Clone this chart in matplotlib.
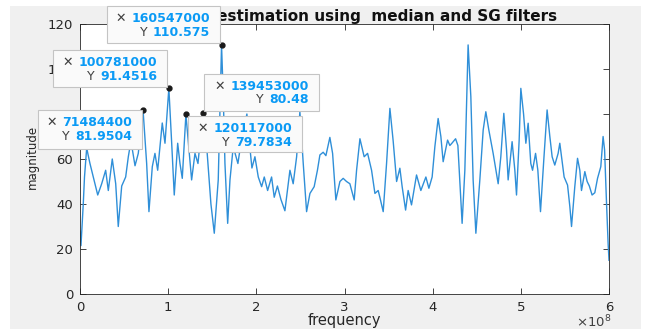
#!/usr/bin/env python3
"""Magnitude spectrum after median + SG filtering, with five data tips."""

import matplotlib
matplotlib.use("Agg")
import matplotlib.pyplot as plt
from matplotlib.patches import Rectangle, FancyBboxPatch

W, H = 646, 329

# frequency in units of 1e8, magnitude
FREQ = [
    0.000, 0.011, 0.037, 0.051, 0.076, 0.091, 0.113, 0.151, 0.201, 0.246,
    0.291, 0.321, 0.366, 0.405, 0.434, 0.473, 0.518, 0.548, 0.578, 0.624,
    0.661, 0.7148, 0.756, 0.782, 0.820, 0.850, 0.881, 0.933, 0.964, 1.0078,
    1.040, 1.069, 1.108, 1.134, 1.160, 1.2012, 1.236, 1.266, 1.304, 1.338,
    1.3945, 1.437, 1.485, 1.523, 1.568, 1.6055, 1.625, 1.644, 1.675, 1.701,
    1.738, 1.791, 1.837, 1.893, 1.927, 1.950, 1.984, 2.022, 2.060, 2.090,
    2.128, 2.173, 2.203, 2.239, 2.279, 2.324, 2.381, 2.418, 2.457, 2.494,
    2.532, 2.570, 2.608, 2.656, 2.693, 2.721, 2.758, 2.789, 2.834, 2.865,
    2.902, 2.948, 2.985, 3.023, 3.061, 3.110, 3.137, 3.175, 3.223, 3.262,
    3.307, 3.345, 3.382, 3.401, 3.439, 3.477, 3.515, 3.552, 3.591, 3.628,
    3.654, 3.693, 3.722, 3.760, 3.817, 3.866, 3.923, 3.957, 3.994, 4.025,
    4.062, 4.093, 4.119, 4.169, 4.195, 4.218, 4.260, 4.286, 4.334, 4.365,
    4.402, 4.433, 4.459, 4.490, 4.535, 4.573, 4.603, 4.637, 4.686, 4.743,
    4.773, 4.807, 4.838, 4.856, 4.901, 4.932, 4.951, 4.981, 5.000, 5.031,
    5.057, 5.083, 5.113, 5.133, 5.167, 5.193, 5.223, 5.261, 5.298, 5.329,
    5.355, 5.385, 5.423, 5.442, 5.465, 5.491, 5.530, 5.556, 5.575, 5.612,
    5.643, 5.669, 5.688, 5.726, 5.752, 5.777, 5.808, 5.839, 5.870, 5.907,
    5.933, 5.950, 5.972, 5.990, 6.000,
]
MAG = [
    28.0, 21.5, 40.0, 52.0, 65.0, 62.0, 58.0, 52.0, 44.0, 49.0,
    55.0, 46.0, 60.0, 49.0, 30.0, 48.0, 52.0, 61.0, 68.0, 57.0,
    62.5, 81.95, 58.0, 36.6, 56.6, 62.5, 55.0, 76.0, 67.0, 91.45,
    67.0, 44.0, 67.0, 58.0, 51.4, 79.78, 64.0, 50.7, 62.5, 58.0,
    80.48, 65.5, 40.0, 27.0, 50.7, 110.58, 87.7, 58.0, 31.4, 50.7,
    65.5, 58.0, 70.0, 80.0, 65.0, 56.0, 61.0, 52.0, 47.7, 52.0,
    46.0, 52.0, 43.0, 48.0, 42.0, 37.0, 55.0, 49.0, 61.0, 81.0,
    58.0, 36.6, 44.7, 47.7, 55.0, 61.8, 63.0, 61.5, 69.6, 62.5,
    41.8, 50.0, 51.4, 50.0, 49.0, 41.8, 55.0, 69.0, 61.0, 62.5,
    55.0, 44.7, 46.0, 43.0, 36.6, 58.0, 82.5, 68.0, 50.0, 55.9,
    47.7, 37.3, 46.0, 39.6, 52.9, 46.0, 52.0, 47.0, 52.0, 65.5,
    78.0, 70.0, 58.8, 68.4, 66.0, 67.0, 69.0, 66.0, 31.4, 55.0,
    110.7, 87.7, 50.7, 27.0, 50.7, 72.9, 81.0, 72.9, 62.5, 49.0,
    61.0, 80.3, 64.0, 50.7, 67.7, 55.0, 44.0, 68.4, 91.4, 80.0,
    67.0, 75.9, 58.0, 55.0, 62.5, 55.0, 36.6, 60.0, 81.8, 70.0,
    61.0, 57.3, 62.5, 67.0, 60.0, 52.0, 48.4, 38.8, 30.0, 47.7,
    60.3, 55.0, 46.0, 54.4, 50.0, 48.0, 44.0, 45.0, 51.4, 56.6,
    70.0, 64.0, 40.3, 22.5, 15.0,
]

# data tips
TIP_X = ["160547000", "100781000", "139453000", "71484400", "120117000"]
TIP_Y = ["110.575", "91.4516", "80.48", "81.9504", "79.7834"]
TIP_FREQ = [1.60547, 1.00781, 1.39453, 0.714844, 1.20117]
TIP_MAG = [110.575, 91.4516, 80.48, 81.9504, 79.7834]

# tip boxes in image pixels: left, top, right, bottom
TIP_BOXES = [
    (107, 6, 220, 43),
    (53, 50, 167, 87),
    (204, 74, 319, 111),
    (38, 110, 142, 149),
    (188, 116, 302, 152),
]

X_TICKS = [0, 1, 2, 3, 4, 5, 6]
Y_TICKS = [0, 20, 40, 60, 80, 100, 120]

DARK = "#262626"
LINE = "#2f8fd8"
TIP_BLUE = "#0a9af5"


def fx(x):
    return x / W


def fy(y):
    return 1 - y / H


def main():
    plt.rcParams["font.family"] = ["DejaVu Sans"]
    fig = plt.figure(figsize=(W / 100, H / 100), dpi=100, facecolor="white")

    # MATLAB-style gray figure panel
    fig.add_artist(Rectangle((fx(10), 0), fx(631), 1 - fy(323),
                             transform=fig.transFigure, facecolor="#f0f0f0",
                             edgecolor="none", zorder=-10))

    ax = fig.add_axes([fx(80), fy(294), fx(529), fy(24) - fy(294)])
    ax.plot(FREQ, MAG, color=LINE, lw=1.0)
    ax.plot(TIP_FREQ, TIP_MAG, "o", color="#1a1a1a", ms=3.5, zorder=5)

    ax.set_xlim(0, 6)
    ax.set_ylim(0, 120)
    ax.set_xticks(X_TICKS)
    ax.set_yticks(Y_TICKS)
    ax.tick_params(direction="in", top=True, right=True, length=4,
                   width=0.6, colors=DARK, labelsize=9.5, pad=5)
    for s in ax.spines.values():
        s.set_color(DARK)
        s.set_linewidth(0.6)

    fig.text(fx(344), fy(321), "frequency", ha="center", va="center",
             fontsize=10.5, color=DARK)
    fig.text(fx(32), fy(157), "magnitude", ha="center", va="center",
             rotation=90, fontsize=8.5, color=DARK)
    fig.text(fx(611), fy(322), r"$\times10^{8}$", ha="right", va="center",
             fontsize=9.5, color="#404040")
    fig.text(fx(557), fy(16), "Spectrum estimation using  median and SG filters",
             ha="right", va="center", fontsize=11, fontweight="bold",
             color="#111111")

    # data tip boxes
    for (l, t, r, b), xs, ys in zip(TIP_BOXES, TIP_X, TIP_Y):
        fig.add_artist(FancyBboxPatch(
            (fx(l), fy(b)), fx(r - l), fy(t) - fy(b),
            boxstyle="square,pad=0", transform=fig.transFigure,
            facecolor="#fafafa", edgecolor="#c4c4c4", lw=0.8, zorder=20))
        for dy, lab, val in ((12.5, "\u2715", xs), (26.0, "Y", ys)):
            vt = fig.text(fx(r - 10), fy(t + dy), val, ha="right",
                          va="center", fontsize=9, fontweight="bold",
                          color=TIP_BLUE, zorder=21)
            fig.add_artist(plt.Annotation(
                lab, xy=(0, 0.5), xycoords=vt, xytext=(-4, 0),
                textcoords="offset points", ha="right", va="center",
                fontsize=9, color="#404040", zorder=21))

    fig.savefig("out.png", dpi=100, facecolor="white")
    plt.close(fig)


if __name__ == "__main__":
    main()
